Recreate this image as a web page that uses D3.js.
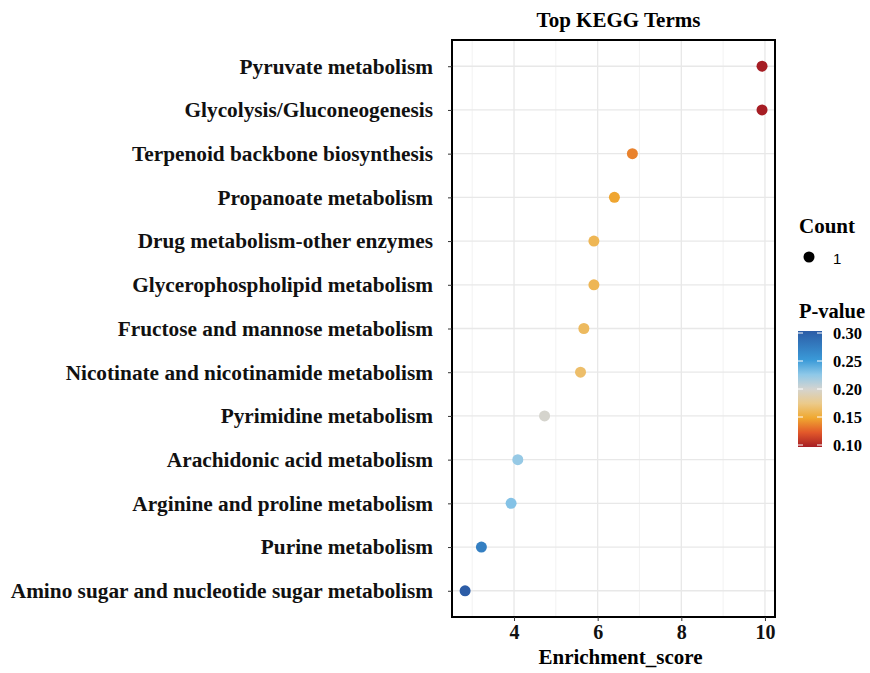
<!DOCTYPE html>
<html>
<head>
<meta charset="utf-8">
<script src="https://cdn.jsdelivr.net/npm/d3@7"></script>
<style>
  body { margin: 0; background: #fff; }
  svg text { font-family: "Liberation Serif", "Times New Roman", serif; font-weight: bold; }
</style>
</head>
<body>
<svg id="chart" width="870" height="673"></svg>
<script>
// KEGG pathway terms, top to bottom
const terms = [
  "Pyruvate metabolism",
  "Glycolysis/Gluconeogenesis",
  "Terpenoid backbone biosynthesis",
  "Propanoate metabolism",
  "Drug metabolism-other enzymes",
  "Glycerophospholipid metabolism",
  "Fructose and mannose metabolism",
  "Nicotinate and nicotinamide metabolism",
  "Pyrimidine metabolism",
  "Arachidonic acid metabolism",
  "Arginine and proline metabolism",
  "Purine metabolism",
  "Amino sugar and nucleotide sugar metabolism"
];
const enrichment = [9.93, 9.93, 6.83, 6.40, 5.91, 5.91, 5.67, 5.59, 4.73, 4.09, 3.93, 3.22, 2.83];
const pvalues = [0.100, 0.100, 0.138, 0.149, 0.160, 0.160, 0.163, 0.166, 0.199, 0.222, 0.228, 0.272, 0.300];
const counts = [1, 1, 1, 1, 1, 1, 1, 1, 1, 1, 1, 1, 1];
const xTicks = [4, 6, 8, 10];
const xMinor = [3, 5, 7, 9];
const pTicks = [0.10, 0.15, 0.20, 0.25, 0.30];
const pStops = [0.10, 0.125, 0.15, 0.175, 0.20, 0.225, 0.25, 0.30];
const pColors = ["#a61d24", "#e2582a", "#f0a830", "#ebca8a", "#d4d4d0", "#8ec8e8", "#3a9ad8", "#2c5ca6"];

const svg = d3.select("#chart");
const panel = { left: 452, right: 775, top: 40, bottom: 617 };

const x = d3.scaleLinear().domain([2.517, 10.24]).range([panel.left, panel.right]);
const y = d3.scalePoint().domain(terms).range([panel.top, panel.bottom]).padding(0.6);
const color = d3.scaleLinear().domain(pStops).range(pColors).clamp(true);

// panel background grid
const grid = svg.append("g");
grid.selectAll("line.minor").data(xMinor).enter().append("line")
  .attr("x1", d => x(d)).attr("x2", d => x(d))
  .attr("y1", panel.top).attr("y2", panel.bottom)
  .attr("stroke", "#efefef").attr("stroke-width", 0.8);
grid.selectAll("line.majx").data(xTicks).enter().append("line")
  .attr("x1", d => x(d)).attr("x2", d => x(d))
  .attr("y1", panel.top).attr("y2", panel.bottom)
  .attr("stroke", "#e8e8e8").attr("stroke-width", 1.3);
grid.selectAll("line.majy").data(terms).enter().append("line")
  .attr("x1", panel.left).attr("x2", panel.right)
  .attr("y1", d => y(d)).attr("y2", d => y(d))
  .attr("stroke", "#e8e8e8").attr("stroke-width", 1.3);

// points
svg.append("g").selectAll("circle").data(terms).enter().append("circle")
  .attr("cx", (d, i) => x(enrichment[i]))
  .attr("cy", d => y(d))
  .attr("r", (d, i) => 5.5 * Math.sqrt(counts[i]))
  .attr("fill", (d, i) => color(pvalues[i]));

// panel border
svg.append("rect")
  .attr("x", panel.left).attr("y", panel.top)
  .attr("width", panel.right - panel.left).attr("height", panel.bottom - panel.top)
  .attr("fill", "none").attr("stroke", "#000").attr("stroke-width", 2);

// axes
const xAxis = svg.append("g").attr("transform", `translate(0,${panel.bottom})`)
  .call(d3.axisBottom(x).tickValues(xTicks).tickSize(4).tickPadding(4).tickFormat(d3.format("d")));
xAxis.select(".domain").remove();
xAxis.selectAll("line").attr("stroke", "#333");
xAxis.selectAll("text").attr("font-size", 20).attr("fill", "#111")
  .style("font-family", "'Liberation Serif', serif").style("font-weight", "bold");

const yAxis = svg.append("g").attr("transform", `translate(${panel.left},0)`)
  .call(d3.axisLeft(y).tickSize(4).tickPadding(15));
yAxis.select(".domain").remove();
yAxis.selectAll("line").attr("stroke", "#333");
yAxis.selectAll("text").attr("font-size", 21.3).attr("fill", "#111")
  .style("font-family", "'Liberation Serif', serif").style("font-weight", "bold");

// titles
svg.append("text").attr("x", (panel.left + panel.right) / 2 + 5).attr("y", 27)
  .attr("text-anchor", "middle").attr("font-size", 21).text("Top KEGG Terms");
svg.append("text").attr("x", (panel.left + panel.right) / 2 + 7).attr("y", 664)
  .attr("text-anchor", "middle").attr("font-size", 21).text("Enrichment_score");

// size legend
svg.append("text").attr("x", 799).attr("y", 233).attr("font-size", 21).text("Count");
svg.append("circle").attr("cx", 809).attr("cy", 257).attr("r", 5.5).attr("fill", "#000");
svg.append("text").attr("x", 833).attr("y", 264).attr("font-size", 15)
  .style("font-family", "'Liberation Sans', Arial, sans-serif").style("font-weight", "normal")
  .text(counts[0]);

// colour legend
svg.append("text").attr("x", 799).attr("y", 318).attr("font-size", 20.5).text("P-value");
const barTop = 331, barBottom = 447, barX = 798, barW = 24;
const p = d3.scaleLinear().domain([0.10, 0.30]).range([barBottom - 2, barTop + 2]);
const defs = svg.append("defs");
const grad = defs.append("linearGradient").attr("id", "pgrad")
  .attr("x1", 0).attr("y1", 1).attr("x2", 0).attr("y2", 0);
pStops.forEach((s, i) => {
  grad.append("stop").attr("offset", (s - 0.10) / 0.20).attr("stop-color", pColors[i]);
});
svg.append("rect").attr("x", barX).attr("y", barTop).attr("width", barW)
  .attr("height", barBottom - barTop).attr("fill", "url(#pgrad)");
const tg = svg.append("g");
pTicks.forEach(t => {
  tg.append("line").attr("x1", barX).attr("x2", barX + 5).attr("y1", p(t)).attr("y2", p(t))
    .attr("stroke", "#fff").attr("stroke-width", 1);
  tg.append("line").attr("x1", barX + barW - 5).attr("x2", barX + barW).attr("y1", p(t)).attr("y2", p(t))
    .attr("stroke", "#fff").attr("stroke-width", 1);
  tg.append("text").attr("x", 833).attr("y", p(t) + 6).attr("font-size", 16.5)
    .text(d3.format(".2f")(t));
});
</script>
</body>
</html>
